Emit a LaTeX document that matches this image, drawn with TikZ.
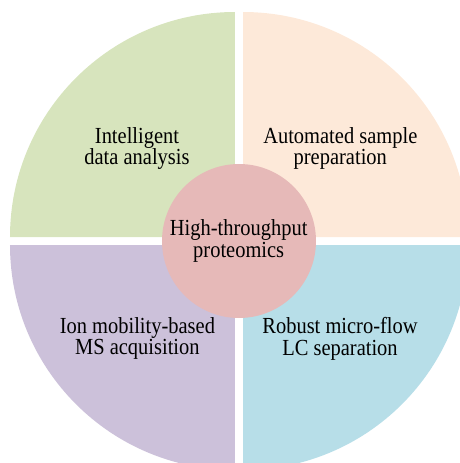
\documentclass[tikz,border=0pt]{standalone}
\usepackage{fontspec}
\setmainfont[FakeStretch=0.89]{Liberation Serif}
\usetikzlibrary{positioning}
\definecolor{datagreen}{HTML}{D7E4BD}
\definecolor{preppeach}{HTML}{FDE9D9}
\definecolor{mspurple}{HTML}{CCC1DA}
\definecolor{lcblue}{HTML}{B7DEE8}
\definecolor{corepink}{HTML}{E6B9B8}
\tikzset{
  topic/.style={align=center, inner sep=0pt, font=\fontsize{23}{21.5}\selectfont},
  corecirc/.style={circle, fill=corepink, minimum size=154pt, inner sep=0pt}
}
\begin{document}
\begin{tikzpicture}[x=1pt,y=1pt]
\def\r{225}
\def\g{4}
\useasboundingbox (-239,-222) rectangle (221,241);
\clip (-239,-222) rectangle (221,241);
% four sectors, each pushed out from the middle by \g
\foreach \col/\ang/\dx/\dy in {datagreen/90/-1/1, preppeach/0/1/1, mspurple/180/-1/-1, lcblue/270/1/-1} {
  \fill[\col] (\dx*\g,\dy*\g) -- +(\ang:\r) arc[start angle=\ang, delta angle=90, radius=\r] -- cycle;
}
\node[corecirc] (core) at (0,0) {};
\node[topic] (hub) at (-0.3,-0.1) {High-throughput\\proteomics};
\node[topic] (analysis) at (-102,92.3) {Intelligent\\data analysis};
\node[topic] (prep) at (101.3,92.3) {Automated sample\\preparation};
\node[topic] (ms) at (-101.6,-97.7) {Ion mobility-based\\MS acquisition};
\node[topic] (lc) at (101,-97.7) {Robust micro-flow\\LC separation};
\end{tikzpicture}
\end{document}
